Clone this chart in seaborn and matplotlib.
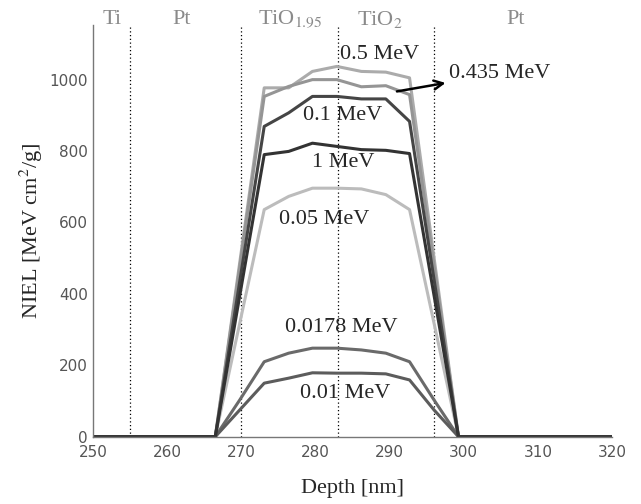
import numpy as np
import pandas as pd
import seaborn as sns
import matplotlib.pyplot as plt

# depth grid [nm] and NIEL values [MeV cm^2/g]
depth = [250, 266.5, 269.8, 273.1, 276.4, 279.6, 282.9, 286.2, 289.5, 292.7, 296.0, 299.3, 320]
niel_005 = [0, 0, 318, 636, 673, 696, 696, 694, 678, 636, 318, 0, 0]
niel_05 = [0, 0, 488, 977, 977, 1023, 1037, 1023, 1021, 1005, 502, 0, 0]
niel_0435 = [0, 0, 476, 953, 981, 1000, 1000, 980, 983, 958, 479, 0, 0]
niel_00178 = [0, 0, 103, 210, 234, 248, 248, 243, 234, 210, 103, 0, 0]
niel_001 = [0, 0, 75, 150, 164, 179, 178, 178, 176, 159, 75, 0, 0]
niel_01 = [0, 0, 435, 869, 907, 953, 953, 946, 946, 883, 441, 0, 0]
niel_1 = [0, 0, 395, 790, 799, 822, 813, 804, 802, 793, 396, 0, 0]

series = {
    "0.05 MeV": niel_005,
    "0.5 MeV": niel_05,
    "0.435 MeV": niel_0435,
    "0.0178 MeV": niel_00178,
    "0.01 MeV": niel_001,
    "0.1 MeV": niel_01,
    "1 MeV": niel_1,
}
colors = {
    "0.05 MeV": "#bcbcbc",
    "0.5 MeV": "#ababab",
    "0.435 MeV": "#959595",
    "0.0178 MeV": "#6a6a6a",
    "0.01 MeV": "#5c5c5c",
    "0.1 MeV": "#454545",
    "1 MeV": "#333333",
}

df = pd.DataFrame(
    [(d, v, k) for k, vals in series.items() for d, v in zip(depth, vals)],
    columns=["depth", "niel", "energy"],
)

# layer boundaries and labels
boundaries = [255, 270, 283, 296]
layer_x = [252.6, 262.0, 276.6, 288.7, 307.0]
layer_names = ["Ti", "Pt", "TiO$_{1.95}$", "TiO$_2$", "Pt"]

sns.set_style("white")
plt.rcParams["mathtext.fontset"] = "stix"
serif = ["Liberation Serif", "DejaVu Serif"]

fig = plt.figure(figsize=(6.41, 5.04), dpi=100)
ax = fig.add_axes([0.145, 0.1335, 0.8097, 0.8169])

sns.lineplot(data=df, x="depth", y="niel", hue="energy", palette=colors,
             hue_order=list(series.keys()), linewidth=2.2, legend=False, ax=ax)

for b in boundaries:
    ax.axvline(b, color="black", linestyle=(0, (1, 2)), linewidth=0.9, zorder=0)

for x, name in zip(layer_x, layer_names):
    ax.text(x, 1168, name, ha="center", va="center", fontsize=16, color="#8a8a8a",
            family=serif, clip_on=False)

# curve labels
labels = [
    ("0.5 MeV", 288.7, 1070),
    ("0.1 MeV", 283.7, 899),
    ("1 MeV", 283.7, 769),
    ("0.05 MeV", 281.2, 607),
    ("0.0178 MeV", 283.5, 306),
    ("0.01 MeV", 284.0, 121),
]
for txt, x, y in labels:
    ax.text(x, y, txt, ha="center", va="center", fontsize=16, family=serif)

ax.annotate("0.435 MeV", xy=(291.0, 967), xytext=(298.0, 1017),
            ha="left", va="center", fontsize=16, family=serif,
            arrowprops=dict(arrowstyle="<-", color="black", lw=1.8,
                            shrinkA=0, shrinkB=0))

ax.set_xlim(250, 320)
ax.set_ylim(0, 1153)
ax.set_xticks(range(250, 321, 10))
ax.set_yticks(range(0, 1001, 200))
ax.tick_params(direction="in", length=4, width=0.8, colors="#666666",
               labelcolor="#555555", labelsize=11)
ax.tick_params(axis="x", pad=6)
for s in ["top", "right"]:
    ax.spines[s].set_visible(False)
for s in ["left", "bottom"]:
    ax.spines[s].set_color("#777777")
    ax.spines[s].set_linewidth(1.0)

ax.set_xlabel("Depth [nm]", fontsize=16, family=serif, labelpad=14)
ax.set_ylabel("NIEL [MeV cm$^2$/g]", fontsize=16, family=serif, labelpad=3)

fig.savefig("out.png", dpi=100)
